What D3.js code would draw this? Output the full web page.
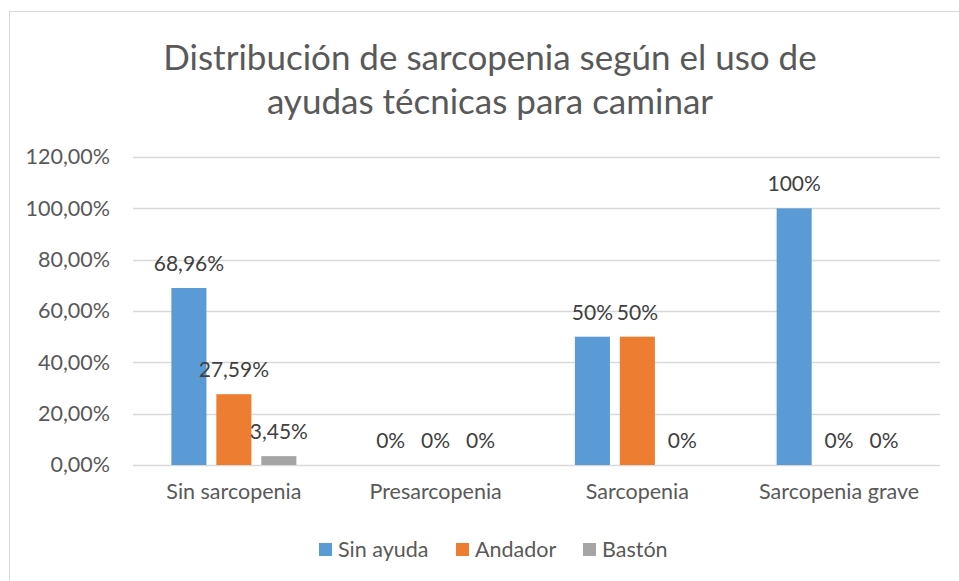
<!DOCTYPE html>
<html><head><meta charset="utf-8">
<script src="https://cdn.jsdelivr.net/npm/d3@7"></script>
<style>
html,body{margin:0;padding:0;background:#fff;}
svg{display:block;font-family:Lato,"Open Sans",sans-serif;}
</style></head>
<body>
<svg id="c" width="959" height="581"></svg>
<script>
const title = ["Distribución de sarcopenia según el uso de", "ayudas técnicas para caminar"];
const categories = ["Sin sarcopenia", "Presarcopenia", "Sarcopenia", "Sarcopenia grave"];
const seriesNames = ["Sin ayuda", "Andador", "Bastón"];
const sinAyuda = [0.6896, 0, 0.5, 1.0];
const andador = [0.2759, 0, 0.5, 0];
const baston = [0.0345, 0, 0, 0];
const sinAyudaLabels = ["68,96%", "0%", "50%", "100%"];
const andadorLabels = ["27,59%", "0%", "50%", "0%"];
const bastonLabels = ["3,45%", "0%", "0%", "0%"];
const yTicks = [0, 0.2, 0.4, 0.6, 0.8, 1.0, 1.2];
const yTickLabels = ["0,00%", "20,00%", "40,00%", "60,00%", "80,00%", "100,00%", "120,00%"];
const colors = ["#5B9BD5", "#ED7D31", "#A5A5A5"];

const series = [
  {name: seriesNames[0], values: sinAyuda, labels: sinAyudaLabels, color: colors[0]},
  {name: seriesNames[1], values: andador, labels: andadorLabels, color: colors[1]},
  {name: seriesNames[2], values: baston, labels: bastonLabels, color: colors[2]}
];

const svg = d3.select("#c");
// chart border
svg.append("rect").attr("x", 9.5).attr("y", 11.5).attr("width", 980).attr("height", 600)
  .attr("fill", "#fff").attr("stroke", "#D9D9D9").attr("stroke-width", 1);

// title
svg.append("g").selectAll("text").data(title).join("text")
  .attr("x", 490).attr("y", (d, i) => 70 + i * 44)
  .attr("text-anchor", "middle").attr("font-size", 35).attr("fill", "#595959")
  .text(d => d);

const plotL = 133, plotR = 940, plotT = 157, plotB = 465;
const y = d3.scaleLinear().domain([0, 1.2]).range([plotB, plotT]);
const x0 = d3.scaleBand().domain(categories).range([plotL, plotR]).paddingInner(0).paddingOuter(0);
const x1 = d3.scaleBand().domain(seriesNames).range([0, 125]).paddingInner(0.22);

// gridlines
svg.append("g").selectAll("line").data(yTicks).join("line")
  .attr("x1", plotL).attr("x2", plotR)
  .attr("y1", d => Math.round(y(d)) + 0.5).attr("y2", d => Math.round(y(d)) + 0.5)
  .attr("stroke", "#D9D9D9").attr("stroke-width", 1.3);

// y axis labels
const yAxis = d3.axisLeft(y).tickValues(yTicks).tickSize(0).tickPadding(0)
  .tickFormat((d, i) => yTickLabels[i]);
const ya = svg.append("g").attr("transform", `translate(110,0)`).call(yAxis);
ya.select(".domain").remove();
ya.selectAll("text").attr("font-size", 21.5).attr("fill", "#595959")
  .attr("font-family", "Lato,'Open Sans',sans-serif");

// x axis labels
const xAxis = d3.axisBottom(x0).tickSize(0).tickPadding(0);
const xa = svg.append("g").attr("transform", `translate(0,484)`).call(xAxis);
xa.select(".domain").remove();
xa.selectAll("text").attr("font-size", 21.5).attr("fill", "#595959")
  .attr("font-family", "Lato,'Open Sans',sans-serif");

// bars
const groups = svg.append("g").selectAll("g").data(categories).join("g")
  .attr("transform", d => `translate(${x0(d) + x0.bandwidth() / 2 - 62.5},0)`);

groups.each(function(cat, ci) {
  const g = d3.select(this);
  series.forEach(s => {
    const v = s.values[ci];
    if (v > 0) {
      g.append("rect").attr("x", x1(s.name)).attr("width", x1.bandwidth())
        .attr("y", y(v)).attr("height", y(0) - y(v)).attr("fill", s.color);
    }
    g.append("text").attr("x", x1(s.name) + x1.bandwidth() / 2)
      .attr("y", y(v) - 17).attr("text-anchor", "middle")
      .attr("font-size", 21).attr("fill", "#404040").text(s.labels[ci]);
  });
});

// legend
const legX = [319, 456, 583];
const leg = svg.append("g").selectAll("g").data(series).join("g")
  .attr("transform", (d, i) => `translate(${legX[i]},543)`);
leg.append("rect").attr("width", 13).attr("height", 13).attr("fill", d => d.color);
leg.append("text").attr("x", 19).attr("y", 14).attr("font-size", 21.5)
  .attr("fill", "#595959").text(d => d.name);
</script>
</body></html>
